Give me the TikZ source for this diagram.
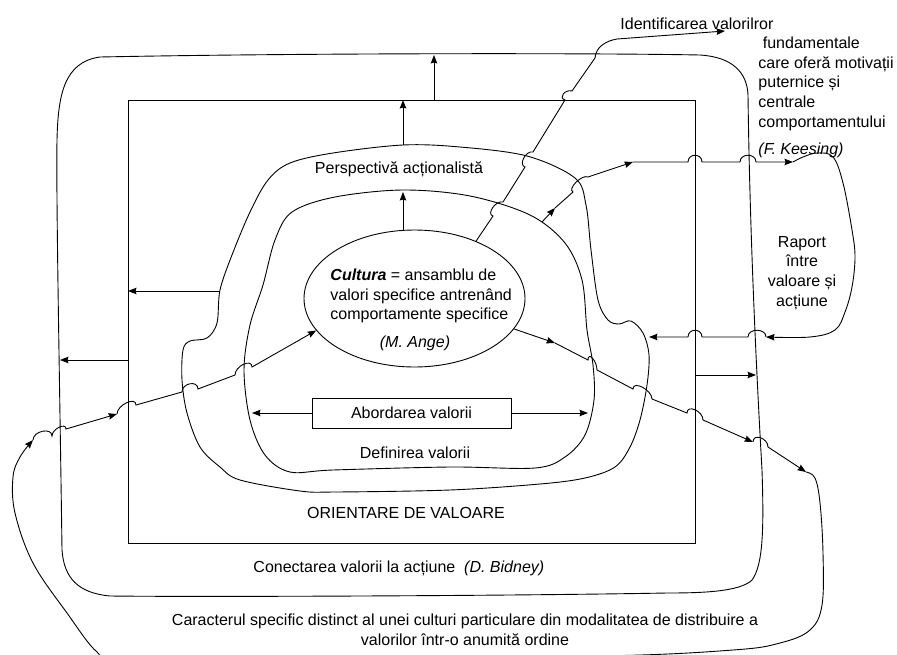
\documentclass[tikz,border=0pt]{standalone}
\usepackage{fontspec}
\setmainfont{Liberation Sans}
\usepackage{tikz}
\usetikzlibrary{calc}
\usetikzlibrary{arrows.meta}
\usetikzlibrary{shapes.geometric}
\tikzset{
  lnjump/.style={to path={.. controls ($(\tikztostart)+(#1)$) and ($(\tikztotarget)+(#1)$) .. (\tikztotarget)}},
  lnjump/.default={0,-9},
  arr/.style={-{Stealth[length=8.5pt,width=6.5pt,inset=1pt]}},
  txt/.style={font=\fontsize{16}{19.6}\selectfont, inner sep=0pt}
}

\begin{document}
\begin{tikzpicture}[x=1pt,y=-1pt,line width=0.9pt]
        \useasboundingbox (0,0) rectangle (897,654);

        %%% CLOSED CURVES %%%
        \draw (128,100) rectangle (695,543);
        \draw (100,57) .. controls (300,53) and (600,53) .. (700,55) .. controls (732,57) and (747,72) .. (748,95)
              .. controls (750,250) and (758,400) .. (762,470) .. controls (764,530) and (763,565) .. (752,580)
              .. controls (740,592) and (700,593) .. (667,593) .. controls (500,596) and (200,597) .. (110,596)
              .. controls (78,593) and (64,578) .. (62,550) .. controls (60,400) and (56,200) .. (57,140)
              .. controls (58,95) and (64,62) .. (100,57) -- cycle;
        \draw plot[smooth cycle, tension=0.55] coordinates {(403,145) (460,147) (527,156) (575,178) (586,205) (591,250) (598,300) (608,320) (619,324) (631,321) (643,333) (649,355) (647,385) (640,420) (630,447) (615,467) (585,478) (540,484) (450,490) (335,492) (300,491) (240,480) (220,467) (200,447) (187,413) (182,380) (183,350) (190,341) (207,338) (217,323) (220,290) (232,255) (250,212) (268,180) (290,163) (333,153)};
        \draw plot[smooth cycle, tension=0.55] coordinates {(403,190) (470,196) (530,215) (565,243) (582,280) (587,330) (593,365) (594,400) (585,435) (565,457) (535,468) (450,467) (333,470) (290,472) (265,455) (250,420) (244,370) (250,325) (263,285) (275,240) (292,212) (335,197)};

        %%% NODES %%%
        \node[draw, ellipse, minimum width=221pt, minimum height=137pt, inner sep=0pt] (cultura) at (414.5,298.5) {};
        \node[txt, anchor=west, align=left] (culttxt) at (330,295.9) {\textbf{\textit{Cultura}} = ansamblu de\\valori specifice antrenând\\comportamente specifice};
        \node[txt, anchor=base] (ange) at (415,347) {\textit{(M. Ange)}};
        \node[txt, draw, minimum width=199pt, minimum height=30pt] (abord) at (411.5,413) {Abordarea valorii};
        \node[txt, anchor=base] (defin) at (415,458) {Definirea valorii};
        \node[txt, anchor=base] (persp) at (399,173) {Perspectivă acționalistă};
        \node[txt, anchor=base] (orient) at (406,518) {ORIENTARE DE VALOARE};
        \node[txt, anchor=base west] (conect) at (253,572) {Conectarea valorii la acțiune\ \ \textit{(D. Bidney)}};
        \node[txt, align=center] (carac) at (465,629.9) {Caracterul specific distinct al unei culturi particulare din modalitatea de distribuire a\\valorilor într-o anumită ordine};
        \node[txt, anchor=base west] (identif) at (620,29) {Identificarea valorilror};
        \node[txt, anchor=west, align=left] (keesing) at (758,83.8) {\ fundamentale\\care oferă motivații\\puternice și\\centrale\\comportamentului};
        \node[txt, anchor=base west] (keesingref) at (758,154) {\textit{(F. Keesing)}};
        \node[txt, align=center] (raport) at (802,272.8) {Raport\\între\\valoare și\\acțiune};

        %%% COORDINATES %%%
        \coordinate (eT) at (403,231);
        \coordinate (dT) at (403,192);
        \coordinate (pT) at (403,145);
        \coordinate (rT) at (403,100);
        \coordinate (rT2) at (434,100);
        \coordinate (oT) at (434,55);
        \coordinate (pL) at (220,291);
        \coordinate (rL) at (128,291);
        \coordinate (rL2) at (128,360);
        \coordinate (oL) at (60,360);
        \coordinate (rR) at (695,375);
        \coordinate (oR) at (756,375);
        \coordinate (dL) at (252,413);
        \coordinate (dR) at (588,413);
        \coordinate (cL0) at (33,440);
        \coordinate (cL1) at (117,414);
        \coordinate (cR1) at (555,343);
        \coordinate (cR2) at (753,442);
        \coordinate (cR3) at (806,472);
        \coordinate (cT1) at (725,31);
        \coordinate (cT2a) at (542,222);
        \coordinate (cT2b) at (555,208);
        \coordinate (cT2c) at (633,162);
        \coordinate (cT2d) at (793,162);
        \coordinate (cRap) at (766,337);
        \coordinate (cBump) at (649,337);

        %%% STRAIGHT ARROWS %%%
        \draw[arr] (eT)--(dT);
        \draw[arr] (pT)--(rT);
        \draw[arr] (rT2)--(oT);
        \draw[arr] (pL)--(rL);
        \draw[arr] (rL2)--(oL);
        \draw[arr] (rR)--(oR);
        \draw[arr] (abord.west)--(dL);
        \draw[arr] (abord.east)--(dR);

        %%% CHAIN TO IDENTIFICAREA %%%
        \draw[arr] (cultura.43) -- (493,216) to[lnjump={-7,-2}] (503,202) -- (525,167) to[lnjump={-7,-2}] (533,152) -- (565,100) to[lnjump={-7,-2}] (572,91) -- (595,58) to[out=85,in=190] (617,39) -- (cT1);

        %%% CHAIN TO RAPORT %%%
        \draw[arr] (cT2a) -- (cT2b);
        \draw[arr] (cT2b) -- (573,192) to[lnjump={-6,-3}] (588,177) -- (cT2c);
        \draw[arr] (cT2c) -- (688,162) to[lnjump] (702,162) -- (740,162) to[lnjump] (756,162) -- (cT2d);
        \draw[arr] plot[smooth, tension=0.6] coordinates {(cT2d) (803,157) (817,153) (833,157) (843,183) (852,230) (855,257) (852,287) (845,312) (835,330) (810,337) (cRap)};
        \draw[arr] (cRap) to[lnjump] (748,337) -- (702,337) to[lnjump] (688,337) -- (cBump);

        %%% CHAIN AROUND THE BOTTOM %%%
        \draw[arr] (cultura.-17) -- (cR1);
        \draw[arr] (cR1) -- (588,360) to[lnjump] (597,370) -- (633,389) to[lnjump] (652,399) -- (687,413) to[lnjump] (703,420) -- (cR2);
        \draw[arr] (cR2) to[lnjump] (768,447) -- (cR3);
        \draw[arr] plot[smooth, tension=0.6] coordinates {(cR3) (815,478) (820,503) (823,553) (822,605) (810,630) (780,643) (733,650) (600,656) (300,658) (120,658) (97,652) (67,613) (33,563) (15,513) (13,477) (20,457) (cL0)};
        \draw[arr] (cL0) to[lnjump] (52,436) to[lnjump={0,-7}] (66,429) -- (cL1);
        \draw[arr] (cL1) to[lnjump] (136,405) -- (182,392) to[lnjump] (198,389) -- (235,375) to[lnjump] (252,367) -- (cultura.198);
\end{tikzpicture}
\end{document}
